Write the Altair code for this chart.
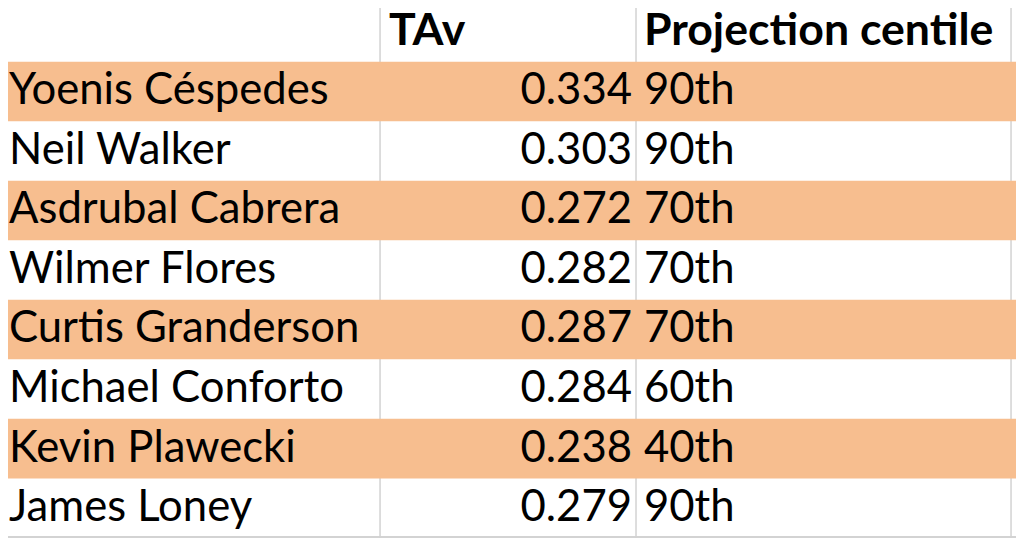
import altair as alt
import pandas as pd

players = ["Yoenis Céspedes", "Neil Walker", "Asdrubal Cabrera", "Wilmer Flores",
           "Curtis Granderson", "Michael Conforto", "Kevin Plawecki", "James Loney"]
tav = [0.334, 0.303, 0.272, 0.282, 0.287, 0.284, 0.238, 0.279]
centile = ["90th", "90th", "70th", "70th", "70th", "60th", "40th", "90th"]
headers = ["TAv", "Projection centile"]

W, H = 1024, 541
TABLE_H = 540
COL_EDGES = [383, 641, 1019]
FONT = "Lato"
SIZE = 44
ORANGE = "#F7BE8F"
GRID = "#D2D2D2"

rows = ["h"] + [str(i) for i in range(len(players))]
df = pd.DataFrame({
    "row": [str(i) for i in range(len(players))],
    "name": players,
    "tav": [f"{v:.3f}" for v in tav],
    "centile": centile,
    "shade": [i % 2 == 0 for i in range(len(players))],
})
hdr = pd.DataFrame({"row": ["h"], "tav": [headers[0]], "centile": [headers[1]]})
edges = pd.DataFrame({"edge": COL_EDGES})

yscale = alt.Scale(domain=rows, range=[0, TABLE_H], paddingInner=0, paddingOuter=0)
Y = alt.Y("row:N", scale=yscale, axis=None)

vlines = alt.Chart(edges).mark_rule(color=GRID, strokeWidth=1.5).encode(
    x=alt.X("edge:Q", scale=alt.Scale(domain=[0, W], range=[0, W], nice=False, zero=False), axis=None),
    y=alt.value(0), y2=alt.value(TABLE_H),
)

shade = alt.Chart(df).transform_filter("datum.shade").mark_rect(color=ORANGE).encode(
    y=Y, x=alt.value(0), x2=alt.value(W),
)

txt_kw = dict(font=FONT, baseline="alphabetic", dy=13, color="#000000")

names = alt.Chart(df).mark_text(align="left", fontSize=SIZE, **txt_kw).encode(
    y=Y, x=alt.value(9), text="name:N")
vals = alt.Chart(df).mark_text(align="right", fontSize=SIZE, **txt_kw).encode(
    y=Y, x=alt.value(637), text="tav:N")
cents = alt.Chart(df).mark_text(align="left", fontSize=SIZE, **txt_kw).encode(
    y=Y, x=alt.value(649), text="centile:N")
h1 = alt.Chart(hdr).mark_text(align="left", fontWeight="bold", fontSize=SIZE + 1, **txt_kw).encode(
    y=Y, x=alt.value(392), text="tav:N")
h2 = alt.Chart(hdr).mark_text(align="left", fontWeight="bold", fontSize=SIZE + 1, **txt_kw).encode(
    y=Y, x=alt.value(649), text="centile:N")

bottom = alt.Chart(edges).mark_rule(color=GRID, strokeWidth=1.5).encode(
    y=alt.value(TABLE_H - 1), x=alt.value(0), x2=alt.value(W))

chart = alt.layer(vlines, shade, bottom, names, vals, cents, h1, h2).properties(
    width=W, height=H,
    autosize=alt.AutoSizeParams(type="none"),
    padding={"left": -8, "top": -8, "right": 0, "bottom": 0},
    background="white",
).configure_view(stroke=None)

chart.save("out.html", embed_options={"renderer": "svg", "actions": False})
